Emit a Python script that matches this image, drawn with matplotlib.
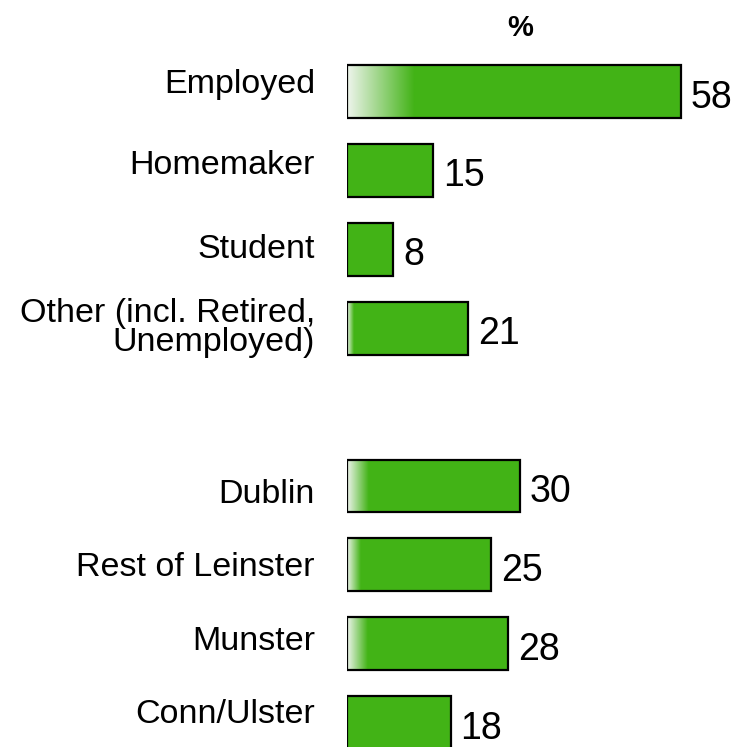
import numpy as np
import matplotlib.pyplot as plt
from matplotlib.colors import to_rgb

# chart values
categories = ["Employed", "Homemaker", "Student", "Other (incl. Retired,\nUnemployed)",
              "Dublin", "Rest of Leinster", "Munster", "Conn/Ulster"]
values = [58, 15, 8, 21, 30, 25, 28, 18]
positions = [0, 1, 2, 3, 5, 6, 7, 8]

# width of the pale fade at the left end of each bar (data units)
fade = [11.8, 0, 0, 1.2, 3.8, 2.4, 3.5, 0]
# label baseline, pixels below the bar centre (None -> centred block)
label_drop = [1.5, 3.6, 8.7, None, 17, 11, 6, 0]

green = "#42b316"
pale = "#eef4ec"

plt.rcParams["font.family"] = ["Liberation Sans", "DejaVu Sans"]

fig = plt.figure(figsize=(7.42, 7.47), dpi=100)
ax = fig.add_axes([347 / 742, 0, 1 - 347 / 742, 1])

bar_h = 0.67
ax.barh(positions, values, height=bar_h, color=green, edgecolor="none", zorder=1)

# left-end gradient
c0, c1 = np.array(to_rgb(pale)), np.array(to_rgb(green))
t = np.linspace(0, 1, 64)[:, None]
grad = (c0 * (1 - t) + c1 * t)[None, :, :]
for p, w in zip(positions, fade):
    if w > 0:
        ax.imshow(grad, extent=(0, w, p + bar_h / 2, p - bar_h / 2),
                  aspect="auto", interpolation="bilinear", zorder=2)

ax.barh(positions, values, height=bar_h, fill=False, edgecolor="black",
        linewidth=1.6, zorder=3)

for p, v, c, d in zip(positions, values, categories, label_drop):
    ax.annotate(str(v), xy=(v, p), xytext=(10, -16), textcoords="offset pixels",
                ha="left", va="baseline", fontsize=27, annotation_clip=False)
    if d is None:
        ax.annotate(c, xy=(0, p), xytext=(-32, 0), textcoords="offset pixels",
                    ha="right", va="center", fontsize=24.5, annotation_clip=False,
                    linespacing=0.9)
    else:
        ax.annotate(c, xy=(0, p), xytext=(-32, -d), textcoords="offset pixels",
                    ha="right", va="baseline", fontsize=24.5, annotation_clip=False)

ax.text(30.1, -0.81, "%", ha="center", va="center", fontsize=21,
        fontweight="bold")

step = 78.9
ax.set_xlim(0, (742 - 347) / 5.75)
ax.set_ylim((747 - 91.5) / step, -91.5 / step)
ax.axis("off")

fig.savefig("out.png", dpi=100)
